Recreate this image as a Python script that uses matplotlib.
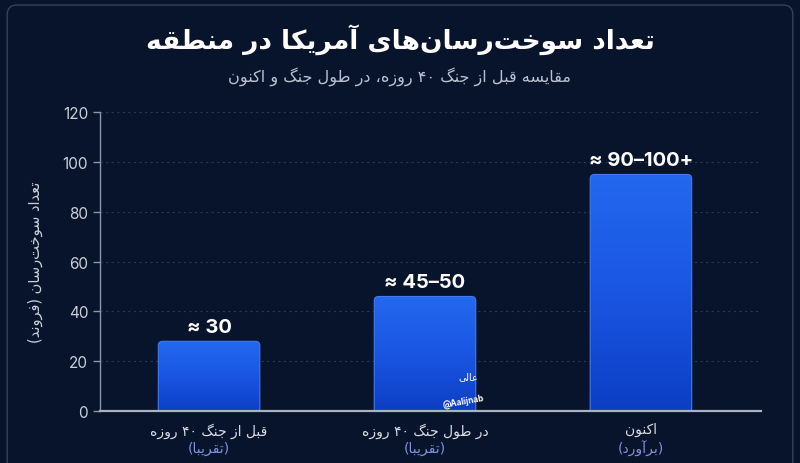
import re
import numpy as np
import matplotlib
matplotlib.use("Agg")
import matplotlib.pyplot as plt
from matplotlib.patches import FancyBboxPatch
from matplotlib.colors import LinearSegmentedColormap
import matplotlib.transforms as mtrans

# data
categories = ["قبل از جنگ ۴۰ روزه", "در طول جنگ ۴۰ روزه", "اکنون"]
notes = ["(تقریبا)", "(تقریبا)", "(برآورد)"]
values = [28, 46, 95]
value_labels = ["≈ 30", "≈ 45–50", "≈ 90–100+"]
yticks = [0, 20, 40, 60, 80, 100, 120]

title = "تعداد سوخت\u200cرسان\u200cهای آمریکا در منطقه"
subtitle = "مقایسه قبل از جنگ ۴۰ روزه، در طول جنگ و اکنون"
ylabel = "تعداد سوخت\u200cرسان (فروند)"

# --- minimal arabic/persian shaping (matplotlib has no text shaping) ---
# forms: isolated, final, initial, medial
FORMS = {
    'ا': ('\uFE8D', '\uFE8E', None, None),
    'آ': ('\uFE81', '\uFE82', None, None),
    'ب': ('\uFE8F', '\uFE90', '\uFE91', '\uFE92'),
    'ت': ('\uFE95', '\uFE96', '\uFE97', '\uFE98'),
    'ج': ('\uFE9D', '\uFE9E', '\uFE9F', '\uFEA0'),
    'خ': ('\uFEA5', '\uFEA6', '\uFEA7', '\uFEA8'),
    'د': ('\uFEA9', '\uFEAA', None, None),
    'ر': ('\uFEAD', '\uFEAE', None, None),
    'ز': ('\uFEAF', '\uFEB0', None, None),
    'س': ('\uFEB1', '\uFEB2', '\uFEB3', '\uFEB4'),
    'ط': ('\uFEC1', '\uFEC2', '\uFEC3', '\uFEC4'),
    'ع': ('\uFEC9', '\uFECA', '\uFECB', '\uFECC'),
    'ف': ('\uFED1', '\uFED2', '\uFED3', '\uFED4'),
    'ق': ('\uFED5', '\uFED6', '\uFED7', '\uFED8'),
    'ل': ('\uFEDD', '\uFEDE', '\uFEDF', '\uFEE0'),
    'م': ('\uFEE1', '\uFEE2', '\uFEE3', '\uFEE4'),
    'ن': ('\uFEE5', '\uFEE6', '\uFEE7', '\uFEE8'),
    'ه': ('\uFEE9', '\uFEEA', '\uFEEB', '\uFEEC'),
    'و': ('\uFEED', '\uFEEE', None, None),
    'ی': ('\uFBFC', '\uFBFD', '\uFBFE', '\uFBFF'),
    'ک': ('\uFB8E', '\uFB8F', '\uFB90', '\uFB91'),
    'گ': ('\uFB92', '\uFB93', '\uFB94', '\uFB95'),
}
MIRROR = {'(': ')', ')': '('}


def fa(s):
    out = []
    for i, ch in enumerate(s):
        if ch not in FORMS:
            out.append(ch)
            continue
        iso, fin, ini, med = FORMS[ch]
        prev = s[i - 1] if i > 0 else ''
        nxt = s[i + 1] if i < len(s) - 1 else ''
        jp = prev in FORMS and FORMS[prev][2] is not None
        jn = nxt in FORMS and ini is not None
        if jp and jn:
            out.append(med)
        elif jp:
            out.append(fin)
        elif jn:
            out.append(ini)
        else:
            out.append(iso)
    shaped = ''.join(out).replace('\u200c', '')
    tokens = re.findall(r'[0-9\u06F0-\u06F9]+|.', shaped)
    return ''.join(MIRROR.get(t, t) for t in reversed(tokens))


BG = "#08142b"
plt.rcParams['font.family'] = ['DejaVu Sans']
num_font = ['Inter', 'DejaVu Sans']

fig = plt.figure(figsize=(8, 4.64), dpi=100, facecolor=BG)
ax = fig.add_axes([0.125, 0.112, 0.826, 0.644])
ax.set_facecolor(BG)

# frame around the card
frame = FancyBboxPatch((0.009, -0.05), 0.982, 1.037, boxstyle="round,pad=0,rounding_size=0.012",
                       transform=fig.transFigure, facecolor='none', edgecolor='#34425e', lw=1.0,
                       mutation_aspect=800 / 464)
fig.patches.append(frame)

x = np.arange(len(values))
bars = ax.bar(x, values, width=0.47, color='none', edgecolor='none', zorder=2)

cmap = LinearSegmentedColormap.from_list("bar", ["#0d3ec4", "#1a56e2", "#2468ee"])
grad = np.linspace(0, 1, 256).reshape(-1, 1)
for b in bars:
    x0, w, h = b.get_x(), b.get_width(), b.get_height()
    patch = FancyBboxPatch((x0, -3), w, h + 3, boxstyle="round,pad=0,rounding_size=0.02",
                           mutation_aspect=86, facecolor='none', edgecolor='#3f7cf2', lw=0.8,
                           zorder=3)
    ax.add_patch(patch)
    im = ax.imshow(grad, extent=[x0, x0 + w, 0, h], origin='lower', aspect='auto',
                   cmap=cmap, zorder=2)
    im.set_clip_path(patch)

for xi, v, lab in zip(x, values, value_labels):
    ax.annotate(lab, (xi, v), xytext=(0, 4), textcoords='offset points', ha='center',
                va='bottom', color='white', fontsize=14.5, fontweight='bold', family=num_font)

ax.set_xlim(-0.505, 2.555)
ax.set_ylim(0, 120)
ax.set_yticks(yticks)
ax.set_yticklabels([str(t) for t in yticks], family=num_font)
ax.grid(axis='y', color='#2c3852', linestyle=(0, (2, 3)), lw=0.8, zorder=0)
ax.set_axisbelow(True)

for s in ['top', 'right']:
    ax.spines[s].set_visible(False)
ax.spines['left'].set_color('#8d96a8')
ax.spines['left'].set_linewidth(1.0)
ax.spines['bottom'].set_color('#aab2c2')
ax.spines['bottom'].set_linewidth(1.6)
ax.spines['bottom'].set_zorder(4)
ax.tick_params(axis='y', colors='#8d96a8', labelcolor='#c9cfdb', labelsize=11, length=5, width=1)
ax.tick_params(axis='x', length=0, labelcolor='#d9dde6', labelsize=10, pad=8)

ax.set_xticks(x)
ax.set_xticklabels([fa(c) for c in categories])
trans = mtrans.blended_transform_factory(ax.transData, ax.transAxes)
for xi, n in zip(x, notes):
    ax.text(xi, -0.122, fa(n), transform=trans, ha='center', va='center',
            color='#7f93dc', fontsize=10)

ax.set_ylabel(fa(ylabel), color='#c9cfdb', fontsize=10.5, labelpad=14)

fig.text(0.5, 0.915, fa(title), ha='center', va='center', color='white',
         fontsize=19, fontweight='bold')
fig.text(0.5, 0.835, fa(subtitle), ha='center', va='center', color='#b9c1d2', fontsize=11.6)

# watermark
ax.text(1.18, 4, "@Aalijnab", color='white', fontsize=6, fontweight='bold',
        rotation=10, ha='center', va='center', family=num_font, zorder=5)
ax.text(1.2, 14, fa("عالی"), color='white', fontsize=7, ha='center', va='center', zorder=5)

fig.savefig("out.png", dpi=100, facecolor=BG)
